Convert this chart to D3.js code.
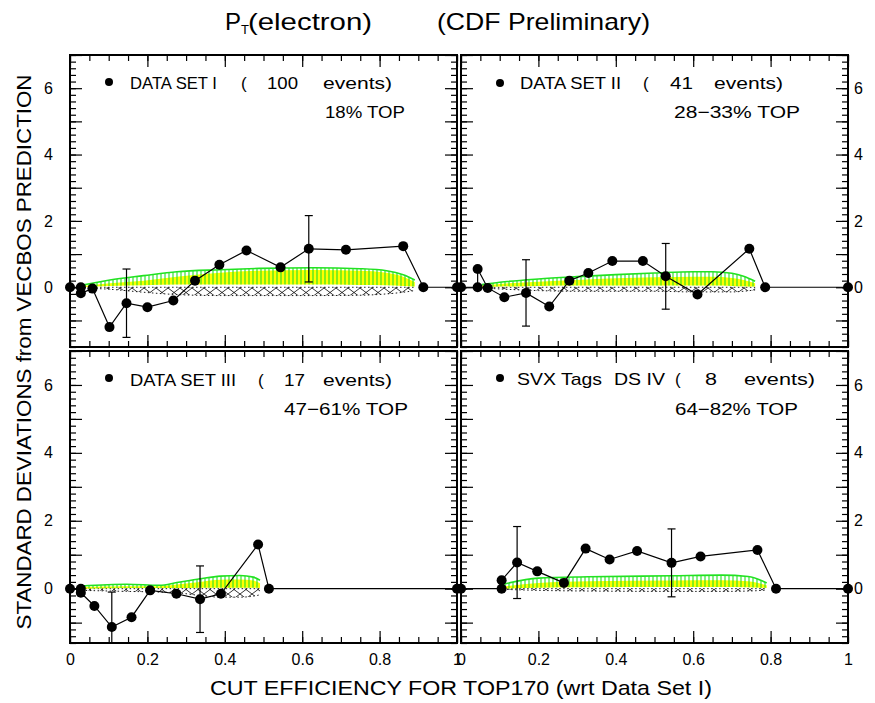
<!DOCTYPE html>
<html><head><meta charset="utf-8">
<script src="https://cdn.jsdelivr.net/npm/d3@7"></script>
<style>body{margin:0;background:#fff}</style>
</head><body><svg id="c" width="875" height="703"></svg>
<script>
// ---------------- data ----------------
const panelNames = ["DATA SET I", "DATA SET II", "DATA SET III", "SVX Tags  DS IV"];
const eventCounts = ["100", "41", "17", "8"];
const topFractions = ["18% TOP", "28\u221233% TOP", "47\u221261% TOP", "64\u221282% TOP"];
const xTickLabels = ["0", "0.2", "0.4", "0.6", "0.8", "1"];
const xTickValues = [0, 0.2, 0.4, 0.6, 0.8, 1];
const yTickLabels = ["0", "2", "4", "6"];

// data points (cut efficiency, standard deviations)
const ds1X = [0, 0.028, 0.028, 0.058, 0.102, 0.146, 0.2, 0.267, 0.323, 0.386, 0.456, 0.544, 0.617, 0.713, 0.861, 0.913, 1];
const ds1Y = [0, 0, -0.18, -0.04, -1.2, -0.48, -0.6, -0.4, 0.2, 0.68, 1.11, 0.6, 1.16, 1.13, 1.24, 0, 0];
const ds2X = [0, 0.043, 0.043, 0.069, 0.112, 0.168, 0.228, 0.28, 0.329, 0.391, 0.47, 0.529, 0.611, 0.745, 0.786, 1];
const ds2Y = [0, 0, 0.55, -0.02, -0.3, -0.17, -0.58, 0.2, 0.43, 0.79, 0.79, 0.33, -0.22, 1.16, 0, 0];
const ds3X = [0, 0.028, 0.028, 0.063, 0.108, 0.159, 0.207, 0.275, 0.336, 0.39, 0.486, 0.514, 1];
const ds3Y = [0, 0, -0.12, -0.51, -1.13, -0.84, -0.05, -0.15, -0.31, -0.15, 1.3, 0, 0];
const ds4X = [0, 0.105, 0.105, 0.145, 0.197, 0.266, 0.322, 0.384, 0.455, 0.544, 0.619, 0.766, 0.814, 1];
const ds4Y = [0, 0, 0.25, 0.77, 0.51, 0.17, 1.18, 0.86, 1.11, 0.76, 0.95, 1.14, 0, 0];

// error bars (x, centre, half-size)
const err1X = [0.146, 0.617], err1Y = [-0.48, 1.16], err1E = [1.03, 1.0];
const err2X = [0.168, 0.529], err2Y = [-0.17, 0.33], err2E = [1.0, 0.99];
const err3X = [0.108, 0.336], err3Y = [-1.13, -0.31], err3E = [1.03, 0.98];
const err4X = [0.145, 0.544], err4Y = [0.77, 0.76], err4E = [1.06, 1.0];

// expected bands: upper (green hatched), yellow, base, lower cross-hatched
const band1X = [0.026, 0.103, 0.19, 0.276, 0.388, 0.49, 0.629, 0.749, 0.818, 0.861, 0.891];
const band1Green = [0.05, 0.22, 0.35, 0.47, 0.53, 0.57, 0.59, 0.56, 0.5, 0.38, 0.22];
const band1Yellow = [0.03, 0.12, 0.2, 0.32, 0.44, 0.5, 0.52, 0.5, 0.44, 0.32, 0.16];
const band1Base = [0.0, 0.04, 0.06, 0.08, 0.08, 0.08, 0.08, 0.07, 0.06, 0.04, 0.02];
const band1Low = [-0.02, -0.06, -0.15, -0.22, -0.25, -0.25, -0.25, -0.24, -0.2, -0.15, -0.1];

const band2X = [0.054, 0.1, 0.2, 0.3, 0.4, 0.5, 0.6, 0.65, 0.7, 0.73, 0.76];
const band2Green = [0.08, 0.15, 0.25, 0.32, 0.38, 0.43, 0.47, 0.47, 0.42, 0.33, 0.18];
const band2Yellow = [0.05, 0.1, 0.17, 0.22, 0.27, 0.3, 0.32, 0.32, 0.28, 0.22, 0.12];
const band2Base = [0.0, 0.02, 0.04, 0.05, 0.05, 0.05, 0.05, 0.05, 0.04, 0.03, 0.02];
const band2Low = [-0.02, -0.05, -0.1, -0.12, -0.12, -0.12, -0.14, -0.14, -0.14, -0.12, -0.08];

const band3X = [0.03, 0.146, 0.232, 0.276, 0.336, 0.388, 0.439, 0.474, 0.491];
const band3Green = [0.08, 0.13, 0.1, 0.18, 0.29, 0.37, 0.39, 0.34, 0.25];
const band3Yellow = [0.05, 0.07, 0.07, 0.12, 0.2, 0.26, 0.27, 0.24, 0.16];
const band3Base = [0.0, 0.02, 0.02, 0.02, 0.03, 0.03, 0.03, 0.03, 0.02];
const band3Low = [-0.05, -0.08, -0.1, -0.12, -0.2, -0.25, -0.25, -0.22, -0.18];

const band4X = [0.109, 0.2, 0.329, 0.544, 0.673, 0.742, 0.79];
const band4Green = [0.13, 0.31, 0.35, 0.38, 0.4, 0.36, 0.17];
const band4Yellow = [0.06, 0.17, 0.22, 0.24, 0.25, 0.22, 0.1];
const band4Base = [0.0, 0.03, 0.04, 0.05, 0.05, 0.04, 0.02];
const band4Low = [-0.02, -0.05, -0.07, -0.08, -0.08, -0.07, -0.04];

const seriesX = [ds1X, ds2X, ds3X, ds4X];
const seriesY = [ds1Y, ds2Y, ds3Y, ds4Y];
const errXs = [err1X, err2X, err3X, err4X], errYs = [err1Y, err2Y, err3Y, err4Y], errEs = [err1E, err2E, err3E, err4E];
const bandXs = [band1X, band2X, band3X, band4X];
const bandGreens = [band1Green, band2Green, band3Green, band4Green];
const bandYellows = [band1Yellow, band2Yellow, band3Yellow, band4Yellow];
const bandBases = [band1Base, band2Base, band3Base, band4Base];
const bandLows = [band1Low, band2Low, band3Low, band4Low];

// ---------------- layout ----------------
const FONT = "'Liberation Sans', Arial, sans-serif";
const cols = [[70, 457], [461, 848]];
const rows = [[55, 347], [351, 643]];
const rowDomains = [[-1.8, 7], [-1.6, 7]];

// legend text layout [start x, length]
const legendLayout = [
  {dot: [109, 82], name: [130, 87], paren: 241, count: [267, 31], ev: [323, 69], base: 89, top: [325, 80], topBase: 118},
  {dot: [500, 83], name: [520, 101], paren: 643, count: [670, 23], ev: [714, 69], base: 89, top: [674, 126], topBase: 118},
  {dot: [109, 378], name: [130, 106], paren: 258, count: [284, 21], ev: [323, 69], base: 386, top: [284, 124], topBase: 415},
  {dot: [500, 378], name: [517, 148], paren: 675, count: [705, 12], ev: [744, 71], base: 385, top: [675, 123], topBase: 415}
];

const svg = d3.select("#c");
const defs = svg.append("defs");
const vh = defs.append("pattern").attr("id", "vhatch").attr("patternUnits", "userSpaceOnUse")
  .attr("width", 4).attr("height", 4);
vh.append("line").attr("x1", 1).attr("x2", 1).attr("y1", 0).attr("y2", 4)
  .attr("stroke", "#22e222").attr("stroke-width", 1.1);
const xh = defs.append("pattern").attr("id", "xhatch").attr("patternUnits", "userSpaceOnUse")
  .attr("width", 12).attr("height", 9);
xh.append("path").attr("d", "M0,0L12,9M12,0L0,9").attr("stroke", "#000").attr("stroke-width", 0.8).attr("fill", "none");

const white = svg.append("rect").attr("width", 875).attr("height", 703).attr("fill", "#fff");

for (let i = 0; i < 4; i++) {
  const col = i % 2, row = Math.floor(i / 2);
  const x = d3.scaleLinear().domain([0, 1]).range(cols[col]);
  const y = d3.scaleLinear().domain(rowDomains[row]).range([rows[row][1], rows[row][0]]);
  const g = svg.append("g");

  // bands
  const bx = bandXs[i];
  const bd = bx.map((v, k) => ({x: v, g: bandGreens[i][k], yl: bandYellows[i][k], b: bandBases[i][k], lo: bandLows[i][k]}));
  const cur = d3.curveMonotoneX;
  g.append("path").datum(bd).attr("fill", "url(#xhatch)")
    .attr("d", d3.area().x(d => x(d.x)).y0(d => y(d.lo)).y1(() => y(0)).curve(cur));
  g.append("path").datum(bd).attr("fill", "none").attr("stroke", "#000").attr("stroke-width", 0.9)
    .attr("stroke-dasharray", "1.5,2.5")
    .attr("d", d3.line().x(d => x(d.x)).y(d => y(d.lo)).curve(cur));
  g.append("path").datum(bd).attr("fill", "none").attr("stroke", "#000").attr("stroke-width", 0.9)
    .attr("stroke-dasharray", "1.5,2.5")
    .attr("d", d3.line().x(d => x(d.x)).y(() => y(0)));
  g.append("path").datum(bd).attr("fill", "#ffff00")
    .attr("d", d3.area().x(d => x(d.x)).y0(d => y(d.b)).y1(d => y(d.yl)).curve(cur));
  g.append("path").datum(bd).attr("fill", "url(#vhatch)")
    .attr("d", d3.area().x(d => x(d.x)).y0(d => y(d.b)).y1(d => y(d.g)).curve(cur));
  g.append("path").datum(bd).attr("fill", "none").attr("stroke", "#22e222").attr("stroke-width", 1.6)
    .attr("d", d3.line().x(d => x(d.x)).y(d => y(d.g)).curve(cur));

  // axes
  const xMinor = d3.range(0, 21).map(k => k * 0.05);
  const yMinor = d3.range(-10, 36).map(k => Math.round(k * 2) / 10).filter(v => v >= rowDomains[row][0] - 1e-9 && v <= 7 + 1e-9);
  const yMajor = d3.range(-1, 8);
  const yb = rows[row][1], yt = rows[row][0];
  const style = sel => {
    sel.select(".domain").remove();
    sel.selectAll("line").attr("stroke", "#000").attr("stroke-width", 1.2);
    sel.selectAll("text").attr("font-family", FONT).attr("font-size", 16).attr("fill", "#000");
    sel.attr("font-family", FONT).attr("font-size", 16);
  };
  g.append("g").attr("transform", `translate(0,${yb})`).call(d3.axisBottom(x).tickValues(xMinor).tickSize(-6).tickFormat("")).call(style);
  g.append("g").attr("transform", `translate(0,${yb})`)
    .call(d3.axisBottom(x).tickValues(xTickValues).tickSize(-12).tickPadding(11)
      .tickFormat((d, k) => row === 1 ? xTickLabels[k] : "")).call(style);
  g.append("g").attr("transform", `translate(0,${yt})`).call(d3.axisTop(x).tickValues(xMinor).tickSize(-6).tickFormat("")).call(style);
  g.append("g").attr("transform", `translate(0,${yt})`).call(d3.axisTop(x).tickValues(xTickValues).tickSize(-12).tickFormat("")).call(style);
  const lab = (side) => d => (side === col && yTickLabels.includes(String(d))) ? String(d) : "";
  g.append("g").attr("transform", `translate(${cols[col][0]},0)`).call(d3.axisLeft(y).tickValues(yMinor).tickSize(-6).tickFormat("")).call(style);
  g.append("g").attr("transform", `translate(${cols[col][0]},0)`).call(d3.axisLeft(y).tickValues(yMajor).tickSize(-12).tickPadding(17).tickFormat(lab(0))).call(style);
  g.append("g").attr("transform", `translate(${cols[col][1]},0)`).call(d3.axisRight(y).tickValues(yMinor).tickSize(-6).tickFormat("")).call(style);
  g.append("g").attr("transform", `translate(${cols[col][1]},0)`).call(d3.axisRight(y).tickValues(yMajor).tickSize(-12).tickPadding(6).tickFormat(lab(1))).call(style);

  g.append("rect").attr("x", cols[col][0]).attr("y", yt).attr("width", cols[col][1] - cols[col][0]).attr("height", yb - yt)
    .attr("fill", "none").attr("stroke", "#000").attr("stroke-width", 2);

  // data line
  const pts = seriesX[i].map((v, k) => [v, seriesY[i][k]]);
  g.append("path").datum(pts).attr("fill", "none").attr("stroke", "#000").attr("stroke-width", 1.2)
    .attr("d", d3.line().x(d => x(d[0])).y(d => y(d[1])));

  // error bars (clipped to panel)
  const clipId = "clip" + i;
  defs.append("clipPath").attr("id", clipId).append("rect")
    .attr("x", cols[col][0]).attr("y", yt).attr("width", cols[col][1] - cols[col][0]).attr("height", yb - yt);
  const eg = g.append("g").attr("clip-path", `url(#${clipId})`);
  errXs[i].forEach((ex, k) => {
    const cx = x(ex), y1 = y(errYs[i][k] + errEs[i][k]), y2 = y(errYs[i][k] - errEs[i][k]);
    eg.append("line").attr("x1", cx).attr("x2", cx).attr("y1", y1).attr("y2", y2).attr("stroke", "#000").attr("stroke-width", 1.2);
    [y1, y2].forEach(yy => eg.append("line").attr("x1", cx - 4).attr("x2", cx + 4).attr("y1", yy).attr("y2", yy)
      .attr("stroke", "#000").attr("stroke-width", 1.2));
  });

  // points
  g.selectAll("circle.pt").data(pts).join("circle").attr("class", "pt")
    .attr("cx", d => x(d[0])).attr("cy", d => y(d[1])).attr("r", 5).attr("fill", "#000");

  // legend
  const L = legendLayout[i];
  g.append("circle").attr("cx", L.dot[0]).attr("cy", L.dot[1]).attr("r", 4).attr("fill", "#000");
  const txt = (s, xx, yy, len) => {
    const t = g.append("text").attr("x", xx).attr("y", yy).attr("font-family", FONT).attr("font-size", 17)
      .attr("fill", "#000").attr("xml:space", "preserve").text(s);
    if (len) t.attr("textLength", len).attr("lengthAdjust", "spacingAndGlyphs");
    return t;
  };
  if (i === 3) {
    txt("SVX Tags", L.name[0], L.base, 85);
    txt("DS IV", 614, L.base, 51);
  } else {
    txt(panelNames[i], L.name[0], L.base, L.name[1]);
  }
  txt("(", L.paren, L.base);
  txt(eventCounts[i], L.count[0], L.base, L.count[1]);
  txt("events)", L.ev[0], L.base, L.ev[1]);
  txt(topFractions[i], L.top[0], L.topBase, L.top[1]);
}

// titles
const title = svg.append("text").attr("y", 30).attr("font-family", FONT).attr("font-size", 24).attr("fill", "#000");
title.append("tspan").attr("x", 225).text("P");
title.append("tspan").attr("font-size", 13).attr("dy", 4).text("T");
title.append("tspan").attr("x", 248).attr("dy", -4).attr("textLength", 124).attr("lengthAdjust", "spacingAndGlyphs").text("(electron)");
svg.append("text").attr("x", 437).attr("y", 30).attr("font-family", FONT).attr("font-size", 24).attr("fill", "#000")
  .attr("textLength", 213).attr("lengthAdjust", "spacingAndGlyphs").text("(CDF Preliminary)");

svg.append("text").attr("x", 210).attr("y", 695).attr("font-family", FONT).attr("font-size", 21).attr("fill", "#000")
  .attr("textLength", 502).attr("lengthAdjust", "spacingAndGlyphs").text("CUT EFFICIENCY FOR TOP170 (wrt Data Set I)");
svg.append("text").attr("transform", "translate(31,352) rotate(-90)").attr("text-anchor", "middle")
  .attr("font-family", FONT).attr("font-size", 21).attr("fill", "#000")
  .attr("textLength", 555).attr("lengthAdjust", "spacingAndGlyphs").text("STANDARD DEVIATIONS from VECBOS PREDICTION");
</script></body></html>
